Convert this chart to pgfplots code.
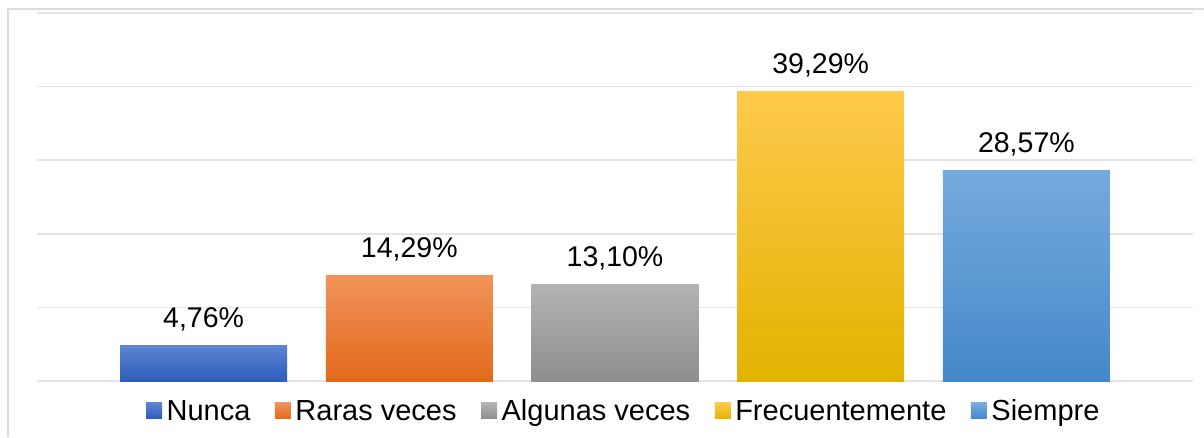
\documentclass[border=0pt]{standalone}
\usepackage{pgfplots}
\pgfplotsset{compat=1.18}
\usepackage{fontspec}
\setmainfont{Liberation Sans}
\definecolor{gridc}{HTML}{E1E4E8}
\definecolor{borderc}{HTML}{DADDE1}
\definecolor{c1t}{HTML}{5B84D2}\definecolor{c1b}{HTML}{2D5DBA}
\definecolor{c2t}{HTML}{F1935A}\definecolor{c2b}{HTML}{E2691C}
\definecolor{c3t}{HTML}{B3B3B3}\definecolor{c3b}{HTML}{8E8E8E}
\definecolor{c4t}{HTML}{FFC94B}\definecolor{c4b}{HTML}{E2B300}
\definecolor{c5t}{HTML}{76AADE}\definecolor{c5b}{HTML}{4488C9}
\begin{document}
\begin{tikzpicture}
\path[use as bounding box] (0pt,0pt) rectangle (1204pt,437pt);
\draw[borderc, line width=2pt] (8pt,0pt) -- (8pt,428pt) -- (1204pt,428pt);
\begin{axis}[
  at={(37pt,56pt)}, anchor=south west,
  scale only axis, width=1156pt, height=368pt,
  xmin=-0.81, xmax=4.81, ymin=0, ymax=50,
  ytick={0,10,20,30,40,50}, yticklabels={}, xtick=\empty,
  major tick length=0pt,
  ymajorgrids, grid style={gridc, line width=1.6pt},
  axis line style={draw=none},
  clip=false,
  ybar, bar width=167pt, bar shift=0pt,
  nodes near coords, point meta=explicit symbolic,
  every node near coord/.append style={anchor=base, yshift=18pt, inner sep=0pt, font=\fontsize{28.5}{34}\selectfont, text=black},
  legend image code/.code={\path[#1, draw=none] (0pt,-8pt) rectangle (16pt,8pt);},
  legend columns=5,
  legend style={at={(0.5087,-0.0815)}, anchor=center, draw=none, fill=none,
    font=\fontsize{29}{34}\selectfont,
    /tikz/every even column/.append style={column sep=20pt},
    nodes={inner sep=4.5pt}},
]
\addplot[draw=none, top color=c1t, bottom color=c1b] coordinates {(0,4.76) [4,76\%]};
\addlegendentry{Nunca}
\addplot[draw=none, top color=c2t, bottom color=c2b] coordinates {(1,14.29) [14,29\%]};
\addlegendentry{Raras veces}
\addplot[draw=none, top color=c3t, bottom color=c3b] coordinates {(2,13.10) [13,10\%]};
\addlegendentry{Algunas veces}
\addplot[draw=none, top color=c4t, bottom color=c4b] coordinates {(3,39.29) [39,29\%]};
\addlegendentry{Frecuentemente}
\addplot[draw=none, top color=c5t, bottom color=c5b] coordinates {(4,28.57) [28,57\%]};
\addlegendentry{Siempre}
\end{axis}
\end{tikzpicture}
\end{document}
